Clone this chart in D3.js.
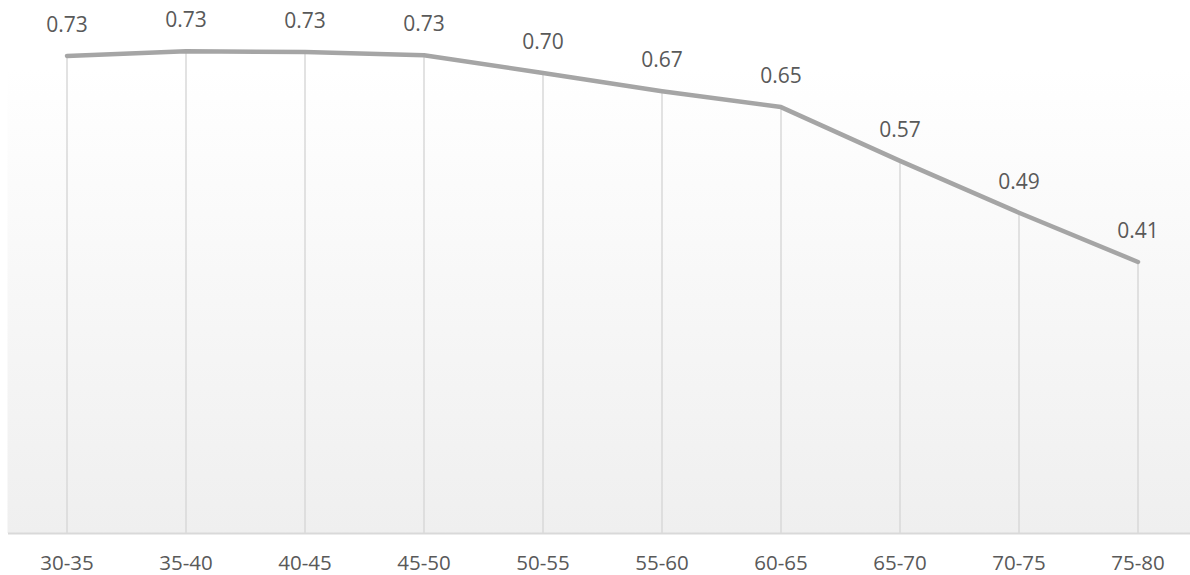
<!DOCTYPE html>
<html>
<head>
<meta charset="utf-8">
<script src="https://cdn.jsdelivr.net/npm/d3@7"></script>
<style>
  html, body { margin: 0; padding: 0; background: #ffffff; overflow: hidden; }
  svg { display: block; }
  text { font-family: "Open Sans", "Noto Sans", sans-serif; fill: #595959; }
</style>
</head>
<body>
<svg id="chart" width="1190" height="575"></svg>
<script>
// Age bands and the value for each band
const categories = ["30-35", "35-40", "40-45", "45-50", "50-55", "55-60", "60-65", "65-70", "70-75", "75-80"];
const values = [0.727, 0.734, 0.733, 0.728, 0.701, 0.673, 0.649, 0.567, 0.488, 0.413];
const yDomain = [0, 0.8];

const plot = { left: 7.5, right: 1197.5, top: 8, bottom: 533, fillTop: 68 };

const svg = d3.select("#chart");

const x = d3.scaleBand().domain(categories).range([plot.left, plot.right]).padding(0);
const y = d3.scaleLinear().domain(yDomain).range([plot.bottom, plot.top]);
const cx = d => x(d) + x.bandwidth() / 2;

// Plot-area fill: soft vertical gradient
const defs = svg.append("defs");
const grad = defs.append("linearGradient")
  .attr("id", "plotFill").attr("x1", 0).attr("y1", 0).attr("x2", 0).attr("y2", 1);
grad.append("stop").attr("offset", "0%").attr("stop-color", "#ffffff");
grad.append("stop").attr("offset", "100%").attr("stop-color", "#efefef");

svg.append("rect")
  .attr("x", plot.left)
  .attr("y", plot.fillTop)
  .attr("width", plot.right - plot.left)
  .attr("height", plot.bottom - plot.fillTop)
  .attr("fill", "url(#plotFill)");

const data = categories.map((c, i) => ({ c, v: values[i] }));

// Drop lines from each point to the category axis
svg.append("g").selectAll("line")
  .data(data)
  .join("line")
  .attr("x1", d => cx(d.c)).attr("x2", d => cx(d.c))
  .attr("y1", d => y(d.v)).attr("y2", y(0))
  .attr("stroke", "#d9d9d9")
  .attr("stroke-width", 1.5);

// Category axis
const xAxis = svg.append("g")
  .attr("transform", `translate(0,${y(0)})`)
  .call(d3.axisBottom(x).tickSize(0).tickPadding(0));
xAxis.select(".domain").attr("stroke", "#d9d9d9").attr("stroke-width", 2);
xAxis.selectAll(".tick text")
  .attr("y", 36.5)
  .attr("dy", null)
  .attr("font-size", 20.5)
  .style("font-family", "'Open Sans', 'Noto Sans', sans-serif")
  .attr("fill", "#595959");

// Series line
const line = d3.line().x(d => cx(d.c)).y(d => y(d.v));
svg.append("path")
  .datum(data)
  .attr("d", line)
  .attr("fill", "none")
  .attr("stroke", "#a5a5a5")
  .attr("stroke-width", 4.5)
  .attr("stroke-linejoin", "round")
  .attr("stroke-linecap", "round");

// Value labels above each point
const fmt = d3.format(".2f");
svg.append("g").selectAll("text")
  .data(data)
  .join("text")
  .attr("x", d => cx(d.c))
  .attr("y", d => y(d.v) - 24)
  .attr("text-anchor", "middle")
  .attr("font-size", 21)
  .text(d => fmt(d.v));
</script>
</body>
</html>
